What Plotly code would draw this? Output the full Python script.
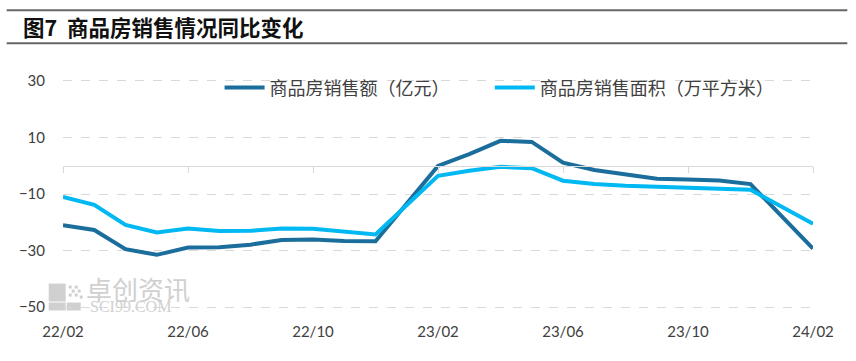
import plotly.graph_objects as go

months = ["22/02", "22/03", "22/04", "22/05", "22/06", "22/07", "22/08", "22/09", "22/10",
          "22/11", "22/12", "23/01", "23/02", "23/03", "23/04", "23/05", "23/06", "23/07",
          "23/08", "23/09", "23/10", "23/11", "23/12", "24/01", "24/02"]
sales_value = [-21.0, -22.7, -29.5, -31.5, -28.9, -28.8, -27.9, -26.3, -26.1, -26.6, -26.7,
               None, -0.1, 4.1, 8.8, 8.4, 1.1, -1.5, -3.2, -4.6, -4.9, -5.2, -6.5, None, -29.3]
sales_area = [-11.0, -13.8, -20.9, -23.6, -22.2, -23.1, -23.0, -22.2, -22.3, -23.3, -24.3,
              None, -3.6, -1.8, -0.4, -0.9, -5.3, -6.5, -7.1, -7.5, -7.8, -8.0, -8.5, None, -20.5]
tick_labels = ["22/02", "22/06", "22/10", "23/02", "23/06", "23/10", "24/02"]
y_ticks = [-50, -30, -10, 10, 30]
name_value = "商品房销售额（亿元）"
name_area = "商品房销售面积（万平方米）"
title_text = "图7  商品房销售情况同比变化"

W, H = 856, 361
L, R = 63.3, 812.7
Y_TOP, Y_BOT = 77.9, 310.5
YMIN, YMAX = -51, 31

def px_x(p):
    return (p - L) / (R - L)

def px_y(p):
    return (Y_BOT - p) / (Y_BOT - Y_TOP)

fig = go.Figure()
fig.add_trace(go.Scatter(x=months, y=sales_value, name=name_value, mode="lines",
                         connectgaps=True, line=dict(color="#1B6E9B", width=4), legend="legend"))
fig.add_trace(go.Scatter(x=months, y=sales_area, name=name_area, mode="lines",
                         connectgaps=True, line=dict(color="#00B8F2", width=4), legend="legend2"))

tick_font = dict(family="Lato, Open Sans, sans-serif", size=15, color="#404040")
legend_font = dict(family="Noto Sans CJK SC", size=18, color="#404040")
zero_pos = (0 - YMIN) / (YMAX - YMIN)

fig.update_layout(
    width=W, height=H,
    margin=dict(l=L, r=W - R, t=Y_TOP, b=H - Y_BOT, pad=0, autoexpand=False),
    paper_bgcolor="white", plot_bgcolor="white",
    showlegend=True,
    legend=dict(orientation="h", x=px_x(222) - 0.003, y=1.037, xanchor="left", yanchor="top",
                bgcolor="rgba(0,0,0,0)", font=legend_font, itemwidth=40),
    legend2=dict(orientation="h", x=px_x(492) - 0.003, y=1.037, xanchor="left", yanchor="top",
                 bgcolor="rgba(0,0,0,0)", font=legend_font, itemwidth=40),
    xaxis=dict(type="category", categoryorder="array", categoryarray=months,
               range=[0, len(months) - 1], tickvals=tick_labels, ticktext=tick_labels,
               showgrid=False, zeroline=False, showline=False, ticks="", automargin=False,
               tickfont=tick_font, ticklabelstandoff=11),
    xaxis2=dict(type="category", categoryorder="array", categoryarray=months,
                range=[0, len(months) - 1], overlaying="x", anchor="free", position=zero_pos,
                side="bottom", showline=True, linecolor="#D9D9D9", linewidth=1, automargin=False,
                ticks="outside", ticklen=6, tickcolor="#D9D9D9", tickwidth=1,
                tickvals=tick_labels, showticklabels=False, showgrid=False, zeroline=False),
    yaxis=dict(range=[YMIN, YMAX], tickvals=y_ticks, showgrid=True, gridcolor="#D9D9D9",
               griddash="dash", gridwidth=1, zeroline=False, showline=False, automargin=False,
               tickfont=tick_font, ticklabelstandoff=17),
)
# invisible trace to activate the secondary axis at zero
fig.add_trace(go.Scatter(x=months, y=[None] * len(months), xaxis="x2", showlegend=False,
                         hoverinfo="skip", mode="lines"))

# header rules
for yy in (10, 43):
    fig.add_shape(type="line", xref="paper", yref="paper", x0=px_x(7), x1=px_x(847),
                  y0=px_y(yy), y1=px_y(yy), line=dict(color="#666666", width=2))
fig.add_annotation(text="<b>" + title_text + "</b>", xref="paper", yref="paper",
                   x=px_x(21), y=px_y(26.5), xanchor="left", yanchor="middle", showarrow=False,
                   font=dict(family="Noto Sans CJK SC", size=21.5, color="#111111"))

# watermark
wm = "#D0D0D0"
for (x0, y0, x1, y1) in [(49, 284, 66, 302), (49, 303, 66, 311), (67, 303, 81, 311)]:
    fig.add_shape(type="rect", xref="paper", yref="paper", x0=px_x(x0), x1=px_x(x1),
                  y0=px_y(y1), y1=px_y(y0), line=dict(width=0), fillcolor=wm, layer="below")
for (cx, cy) in [(69, 286), (75, 286), (72, 290), (78, 290), (69, 294), (75, 294), (80, 296)]:
    fig.add_shape(type="rect", xref="paper", yref="paper", x0=px_x(cx), x1=px_x(cx + 3),
                  y0=px_y(cy + 3), y1=px_y(cy), line=dict(width=0), fillcolor=wm, layer="below")
fig.add_annotation(text="卓创资讯", xref="paper", yref="paper", x=px_x(84), y=px_y(289),
                   xanchor="left", yanchor="middle", showarrow=False,
                   font=dict(family="Noto Sans CJK SC", size=26, color=wm))
fig.add_annotation(text="SCI99.COM", xref="paper", yref="paper", x=px_x(88), y=px_y(307),
                   xanchor="left", yanchor="middle", showarrow=False,
                   font=dict(family="Liberation Serif", size=16, color=wm))

fig.write_html("out.html", config={"displayModeBar": False},
               post_script="document.body.style.margin='0';document.body.style.overflow='hidden';")
